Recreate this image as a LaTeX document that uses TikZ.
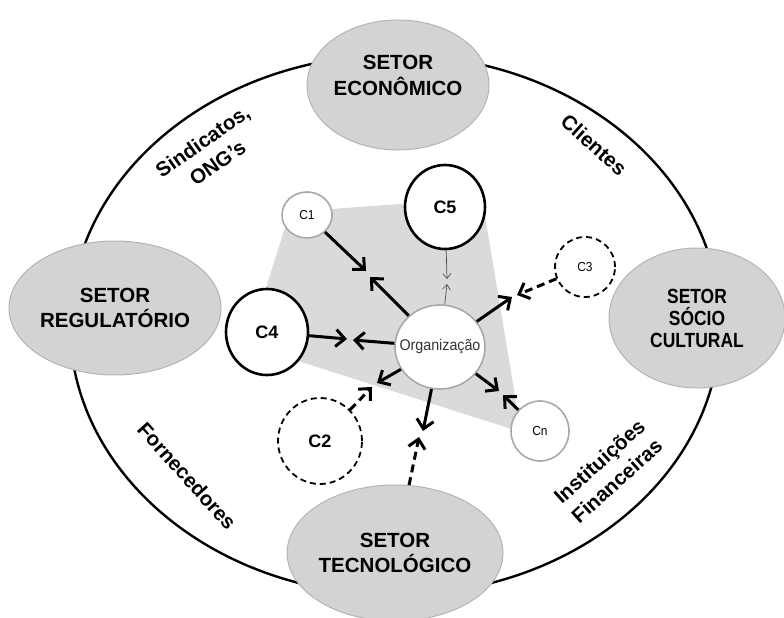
\documentclass[tikz,border=0pt]{standalone}
\usepackage{fontspec}
\setmainfont{Liberation Sans}
\newfontfamily\condsans{Liberation Sans}[FakeStretch=0.92]
\newfontfamily\narrowsans{Liberation Sans}[FakeStretch=0.85]
\usetikzlibrary{arrows.meta,shapes.geometric}
\definecolor{sectorfill}{HTML}{D3D3D3}
\definecolor{sectorline}{HTML}{B4B4B4}
\definecolor{zonefill}{HTML}{DADADA}
\definecolor{softline}{HTML}{A8A8A8}
\begin{document}
\begin{tikzpicture}[x=1pt,y=-1pt,
  sector/.style={ellipse, fill=sectorfill, draw=sectorline, line width=1pt,
    inner sep=0pt, align=center,
    font=\bfseries\fontsize{20.5}{25.5}\selectfont},
  sidelabel/.style={align=center, font=\bfseries\fontsize{20.5}{26}\selectfont},
  agent/.style={ellipse, inner sep=0pt, fill=white},
  strong/.style={agent, draw=black, line width=2.6pt,
    font=\bfseries\fontsize{18}{20}\selectfont},
  weak/.style={agent, draw=softline, line width=1.6pt,
    font=\condsans\fontsize{13}{15}\selectfont},
  latent/.style={agent, draw=black, line width=1.8pt, dash pattern=on 6pt off 4pt},
  link/.style={line width=3pt,
    -{Straight Barb[length=9pt,width=17pt,line width=3pt]}},
  dlink/.style={link, dash pattern=on 8pt off 5pt},
  thinlink/.style={line width=0.7pt, draw=black!70,
    -{Straight Barb[length=5pt,width=8pt,line width=0.7pt]}}
]
\useasboundingbox (0,0) rectangle (784,618);

% outer environment boundary
\draw[line width=2.4pt] (395,325) ellipse [x radius=325, y radius=270];

% sectors of the environment
\node[sector, minimum width=176pt, minimum height=130pt] (econ) at (398,85)
  {SETOR\\[1pt]ECONÔMICO\\[-6pt]};
\node[sector, minimum width=180pt, minimum height=134pt] (reg) at (115,308)
  {SETOR\\REGULATÓRIO};
\node[sector, minimum width=176pt, minimum height=140pt,
  font=\narrowsans\bfseries\fontsize{20.5}{22}\selectfont] (soc) at (697,318)
  {SETOR\\SÓCIO\\CULTURAL};
\node[sector, minimum width=184pt, minimum height=136pt] (tec) at (395,553)
  {SETOR\\TECNOLÓGICO};

% stakeholder groups along the boundary
\node[sidelabel, rotate=35] (sind) at (210,152) {Sindicatos,\\ONG’s};
\node[sidelabel, rotate=-42] (cli) at (594,145) {Clientes};
\node[sidelabel, rotate=-48] (forn) at (187,476) {Fornecedores};
\node[sidelabel, rotate=42] (inst) at (608,471) {Instituições\\Financeiras};

% task environment zone
\fill[zonefill] (290,212) -- (482,198) -- (521,432) -- (270,352) -- (262,300) -- cycle;

% competitors and the organization
\node[weak, minimum width=50pt, minimum height=46pt] (c1) at (307,215) {C1};
\node[strong, minimum width=80pt, minimum height=84pt] (c5) at (445,207) {C5};
\node[latent, minimum width=60pt, minimum height=60pt,
  font=\condsans\fontsize{13}{15}\selectfont] (c3) at (585,267) {C3};
\node[strong, minimum width=82pt, minimum height=86pt] (c4) at (267,332) {C4};
\node[weak, minimum width=90pt, minimum height=84pt,
  font=\condsans\fontsize{15.5}{17}\selectfont, text=black!80] (org) at (440,347)
  {\makebox[0pt]{Organização}};
\node[latent, minimum width=84pt, minimum height=86pt,
  font=\bfseries\fontsize{18}{20}\selectfont] (c2) at (320,441) {C2};
\node[weak, minimum width=58pt, minimum height=60pt] (cn) at (540,431) {Cn};

% meeting points of the paired arrows
\coordinate (p1a) at (366,271);
\coordinate (p1b) at (370,277);
\coordinate (p4a) at (347,339);
\coordinate (p4b) at (353,340);
\coordinate (p5a) at (447,279);
\coordinate (p5b) at (447,284);
\coordinate (p3a) at (517,295);
\coordinate (p3b) at (512,297);
\coordinate (p2a) at (372,387);
\coordinate (p2b) at (377,383);
\coordinate (pna) at (503,395);
\coordinate (pnb) at (499,391);
\coordinate (pta) at (419,437);
\coordinate (ptb) at (423,431);

% relations
\draw[link] (c1) -- (p1a);
\draw[link] (org) -- (p1b);
\draw[link] (c4) -- (p4a);
\draw[link] (org) -- (p4b);
\draw[thinlink] (c5) -- (p5a);
\draw[thinlink] (org) -- (p5b);
\draw[dlink] (c3) -- (p3a);
\draw[link] (org) -- (p3b);
\draw[dlink] (c2) -- (p2a);
\draw[link] (org) -- (p2b);
\draw[link] (cn) -- (pna);
\draw[link] (org) -- (pnb);
\draw[dlink] (tec) -- (pta);
\draw[link] (org) -- (ptb);
\end{tikzpicture}
\end{document}
